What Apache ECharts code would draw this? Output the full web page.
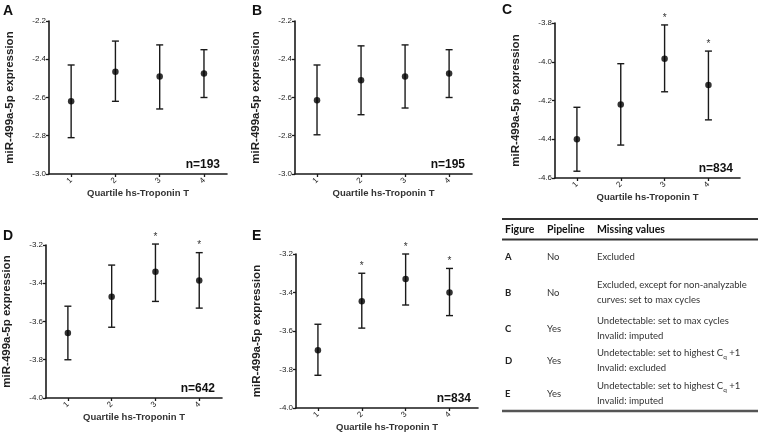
<!DOCTYPE html>
<html>
<head>
<meta charset="utf-8">
<script src="https://cdn.jsdelivr.net/npm/echarts@6/dist/echarts.min.js"></script>
<style>
  html, body { margin: 0; padding: 0; background: #fff; }
  #main { width: 760px; height: 440px; }
</style>
</head>
<body>
<div id="main"></div>
<script>
// quartiles of hs-Troponin T
var quartiles = [1, 2, 3, 4];

// mean and error bar ends per figure
var meanA = [-2.62, -2.465, -2.49, -2.475];
var upperA = [-2.43, -2.305, -2.325, -2.35];
var lowerA = [-2.81, -2.62, -2.66, -2.60];

var meanB = [-2.615, -2.51, -2.49, -2.475];
var upperB = [-2.43, -2.33, -2.325, -2.35];
var lowerB = [-2.795, -2.69, -2.655, -2.60];

var meanC = [-4.40, -4.22, -3.985, -4.12];
var upperC = [-4.235, -4.01, -3.81, -3.945];
var lowerC = [-4.565, -4.43, -4.155, -4.30];

var meanD = [-3.66, -3.47, -3.34, -3.385];
var upperD = [-3.52, -3.305, -3.195, -3.24];
var lowerD = [-3.80, -3.63, -3.495, -3.53];

var meanE = [-3.70, -3.445, -3.33, -3.40];
var upperE = [-3.565, -3.30, -3.20, -3.275];
var lowerE = [-3.83, -3.585, -3.465, -3.52];

// quartiles marked with *
var starsA = [];
var starsB = [];
var starsC = [3, 4];
var starsD = [3, 4];
var starsE = [2, 3, 4];

var sampleSizes = ['n=193', 'n=195', 'n=834', 'n=642', 'n=834'];
var panelLetters = ['A', 'B', 'C', 'D', 'E'];
var yRanges = [[-3.0, -2.2], [-3.0, -2.2], [-4.6, -3.8], [-4.0, -3.2], [-4.0, -3.2]];

// table
var tableHeader = ['Figure', 'Pipeline', 'Missing values'];
var tableFigure = ['A', 'B', 'C', 'D', 'E'];
var tablePipeline = ['No', 'No', 'Yes', 'Yes', 'Yes'];
var tableMissing = [
  ['Excluded'],
  ['Excluded, except for non-analyzable', 'curves: set to max cycles'],
  ['Undetectable: set to max cycles', 'Invalid: imputed'],
  ['Undetectable: set to highest C_q +1', 'Invalid: excluded'],
  ['Undetectable: set to highest C_q +1', 'Invalid: imputed']
];

var means = [meanA, meanB, meanC, meanD, meanE];
var uppers = [upperA, upperB, upperC, upperD, upperE];
var lowers = [lowerA, lowerB, lowerC, lowerD, lowerE];
var stars = [starsA, starsB, starsC, starsD, starsE];

// layout of the five plots (px)
var grids = [
  { left: 49, top: 21, width: 178, height: 153, xmax: 4.52 },
  { left: 295, top: 21, width: 177, height: 153, xmax: 4.52 },
  { left: 555, top: 23, width: 185, height: 155, xmax: 4.72 },
  { left: 45, top: 245, width: 177, height: 153, xmax: 4.52 },
  { left: 296, top: 254, width: 182, height: 154, xmax: 4.65 }
];
var letterPos = [[3, 4], [252, 4], [502, 3], [3, 229], [252, 229]];

var FONT = 'Liberation Sans, Arial, sans-serif';
var INK = '#1a1a1a';

function renderErrorBar(params, api) {
  var x = api.value(0);
  var hi = api.coord([x, api.value(2)]);
  var lo = api.coord([x, api.value(1)]);
  var cap = 3.5;
  var st = { stroke: INK, lineWidth: 1.4 };
  var children = [
    { type: 'line', shape: { x1: hi[0], y1: hi[1], x2: lo[0], y2: lo[1] }, style: st },
    { type: 'line', shape: { x1: hi[0] - cap, y1: hi[1], x2: hi[0] + cap, y2: hi[1] }, style: st },
    { type: 'line', shape: { x1: lo[0] - cap, y1: lo[1], x2: lo[0] + cap, y2: lo[1] }, style: st }
  ];
  if (api.value(3)) {
    children.push({
      type: 'text',
      style: { text: '*', x: hi[0], y: hi[1] - 2, align: 'center', verticalAlign: 'bottom',
               font: '10px ' + FONT, fill: '#333' }
    });
  }
  return { type: 'group', children: children };
}

var gridOpt = [], xAxes = [], yAxes = [], series = [], graphics = [];

grids.forEach(function (g, i) {
  gridOpt.push({ left: g.left, top: g.top, width: g.width, height: g.height, containLabel: false });
  xAxes.push({
    gridIndex: i, type: 'value', min: 0.5, max: g.xmax,
    name: 'Quartile hs-Troponin T', nameLocation: 'middle', nameGap: 14,
    nameTextStyle: { fontFamily: FONT, fontSize: 9.5, fontWeight: 'bold', color: '#333' },
    axisLine: { lineStyle: { color: INK, width: 1.6 } },
    axisTick: { customValues: quartiles, length: 3, lineStyle: { color: INK, width: 1.3 } },
    axisLabel: { customValues: quartiles, rotate: 45, fontFamily: FONT, fontSize: 8,
                 color: '#222', margin: 5 },
    splitLine: { show: false }
  });
  yAxes.push({
    gridIndex: i, type: 'value', min: yRanges[i][0], max: yRanges[i][1], interval: 0.2,
    name: 'miR-499a-5p expression', nameLocation: 'middle', nameGap: 33,
    nameTextStyle: { fontFamily: FONT, fontSize: 11.5, fontWeight: 'bold', color: '#222' },
    axisLine: { show: true, lineStyle: { color: INK, width: 1.6 } },
    axisTick: { show: true, length: 3, lineStyle: { color: INK, width: 1.3 } },
    axisLabel: { fontFamily: FONT, fontSize: 8, color: '#222', margin: 3,
                 formatter: function (v) { return v.toFixed(1); } },
    splitLine: { show: false }
  });

  var barData = quartiles.map(function (q, k) {
    return [q, lowers[i][k], uppers[i][k], stars[i].indexOf(q) >= 0 ? 1 : 0];
  });
  series.push({
    type: 'custom', xAxisIndex: i, yAxisIndex: i, renderItem: renderErrorBar,
    encode: { x: 0, y: [1, 2] }, data: barData, silent: true, clip: false
  });
  series.push({
    type: 'scatter', xAxisIndex: i, yAxisIndex: i, symbol: 'circle', symbolSize: 6.5,
    itemStyle: { color: '#000' }, silent: true,
    data: quartiles.map(function (q, k) { return [q, means[i][k]]; })
  });

  graphics.push({
    type: 'text', left: letterPos[i][0], top: letterPos[i][1],
    style: { text: panelLetters[i], font: 'bold 14px ' + FONT, fill: '#111' }
  });
  graphics.push({
    type: 'text', right: 760 - (g.left + g.width - 7), top: g.top + g.height - 15,
    style: { text: sampleSizes[i], font: 'bold 12px ' + FONT, fill: '#111' }
  });
});

// table
var TF = 'Lato, Noto Sans, sans-serif';
var colX = [505, 547, 597];
var ruleColor = '#333';
graphics.push({ type: 'line', shape: { x1: 502, y1: 219, x2: 758, y2: 219 },
                style: { stroke: ruleColor, lineWidth: 2 } });
graphics.push({ type: 'line', shape: { x1: 502, y1: 239.5, x2: 758, y2: 239.5 },
                style: { stroke: ruleColor, lineWidth: 2 } });
graphics.push({ type: 'line', shape: { x1: 502, y1: 411, x2: 758, y2: 411 },
                style: { stroke: '#555', lineWidth: 2.5 } });
tableHeader.forEach(function (h, c) {
  graphics.push({ type: 'text', x: colX[c], y: 230,
    style: { text: h, font: 'bold 10.5px ' + TF, fill: '#111', verticalAlign: 'middle' } });
});
var rowY = [257, 292.5, 328.5, 360.5, 393.5];
tableFigure.forEach(function (f, r) {
  graphics.push({ type: 'text', x: colX[0], y: rowY[r],
    style: { text: f, font: 'bold 9.5px ' + TF, fill: '#222', verticalAlign: 'middle' } });
  graphics.push({ type: 'text', x: colX[1], y: rowY[r],
    style: { text: tablePipeline[r], font: '9.5px ' + TF, fill: '#333', verticalAlign: 'middle' } });
  var txt = tableMissing[r].map(function (line) {
    var parts = line.split('C_q');
    if (parts.length === 1) return '{t|' + line + '}';
    return '{t|' + parts[0] + 'C}{q|q}{t|' + parts[1] + '}';
  }).join('\n');
  graphics.push({ type: 'text', x: colX[2], y: rowY[r],
    style: { text: txt, verticalAlign: 'middle', lineHeight: 15,
      rich: {
        t: { font: '9.5px ' + TF, fill: '#333', lineHeight: 15 },
        q: { font: '6.5px ' + TF, fill: '#333', lineHeight: 15, verticalAlign: 'bottom', padding: [4, 0, 0, 0] }
      } } });
});

var chart = echarts.init(document.getElementById('main'), null, { renderer: 'canvas' });
chart.setOption({
  backgroundColor: '#fff',
  animation: false,
  grid: gridOpt,
  xAxis: xAxes,
  yAxis: yAxes,
  series: series,
  graphic: graphics
});
</script>
</body>
</html>
